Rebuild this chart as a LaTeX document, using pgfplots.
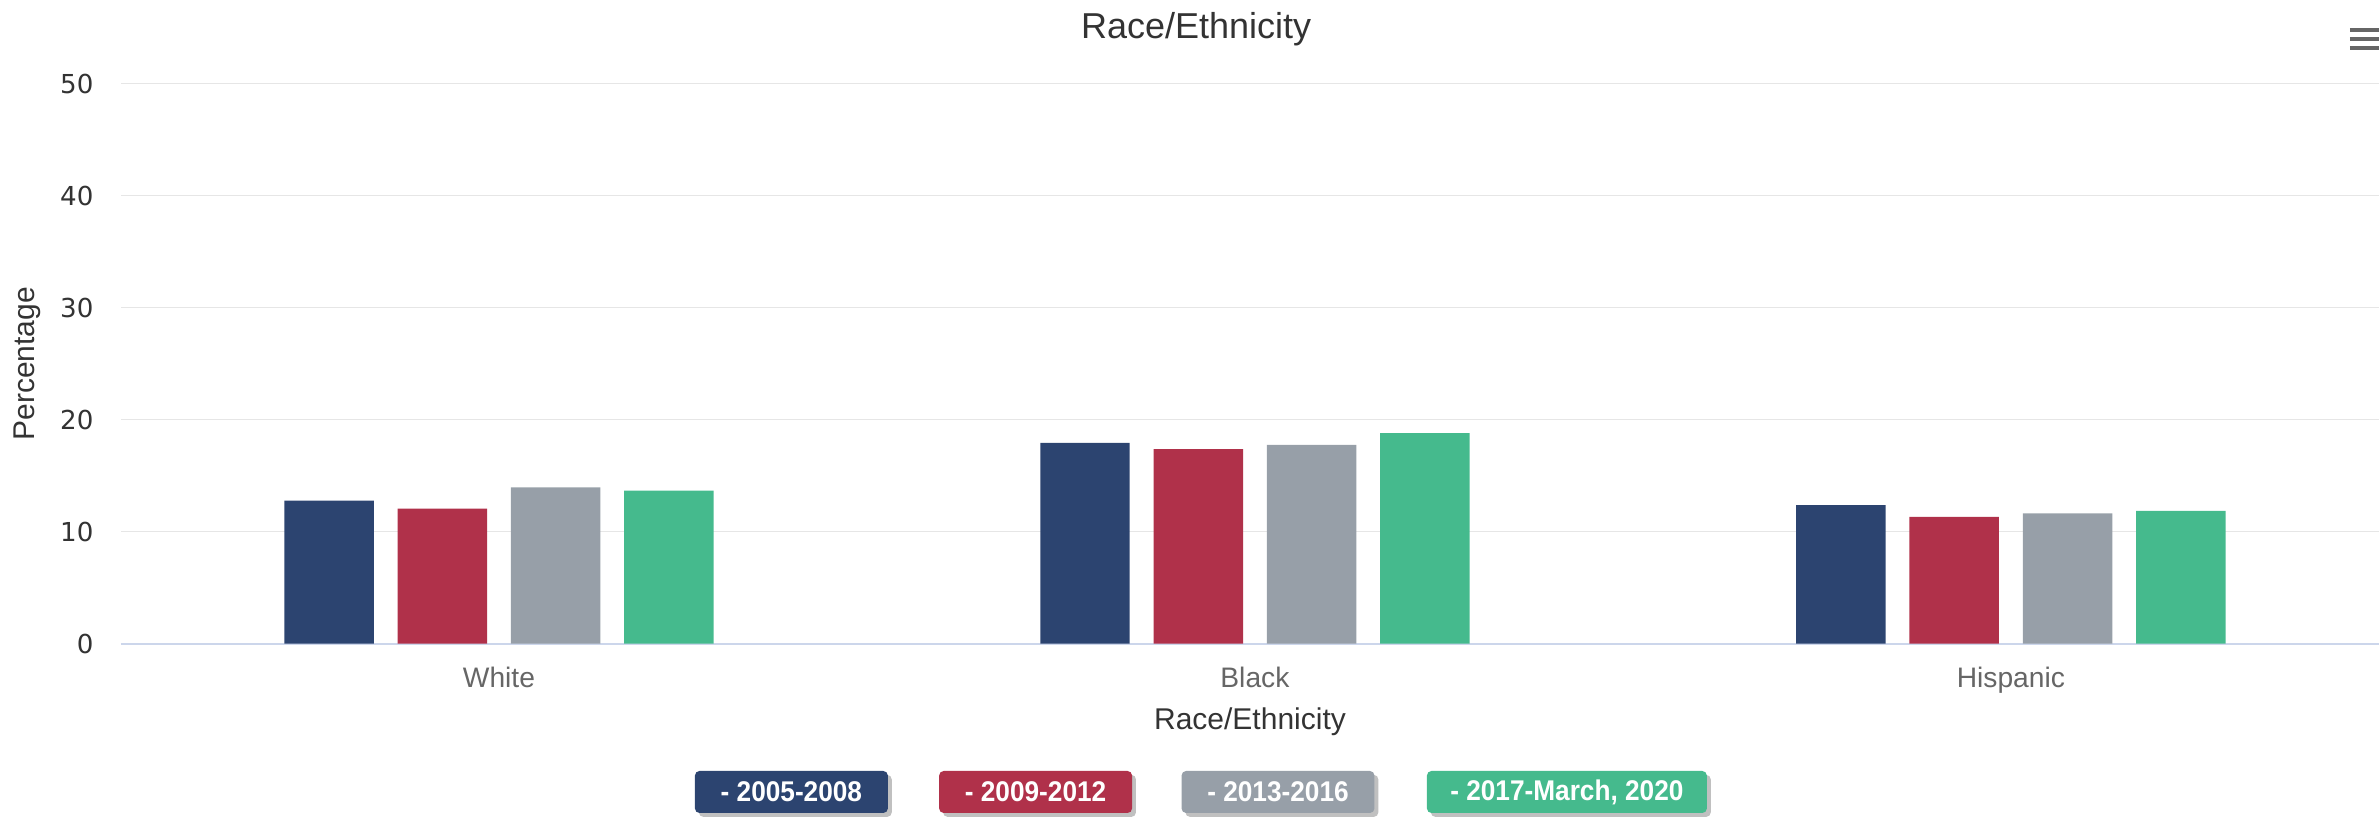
\documentclass[border=0pt]{standalone}
\usepackage{fontspec}
\setmainfont{Liberation Sans}
\newfontfamily\dejavu{DejaVu Sans}
\usepackage{graphicx}
\usepackage{pgfplots}
\pgfplotsset{compat=1.18}
\usetikzlibrary{shadows}
\definecolor{cnavy}{HTML}{2C4470}
\definecolor{cred}{HTML}{B0314A}
\definecolor{cgray}{HTML}{979FA8}
\definecolor{cgreen}{HTML}{45BA8D}
\definecolor{cgrid}{HTML}{E6E6E6}
\definecolor{caxis}{HTML}{CCD6EB}
\definecolor{ctext}{HTML}{333333}
\definecolor{clabel}{HTML}{666666}
\tikzset{leg/.style={rounded corners=1.5pt, minimum height=14pt, inner sep=0pt, text=white,
  font=\fontsize{9.5}{10}\selectfont\bfseries,
  drop shadow={shadow xshift=1.3pt, shadow yshift=-1.3pt, fill=black!55, opacity=0.45}}}
\begin{document}
\begin{tikzpicture}
\begin{axis}[
  at={(40.33pt,57.77pt)}, anchor=south west,
  scale only axis, width=752.67pt, height=186.67pt,
  xmin=-0.5, xmax=2.487, ymin=0, ymax=50,
  axis x line*=bottom, axis y line*=left,
  axis line style={-},
  x axis line style={draw=caxis, line width=0.6pt},
  y axis line style={draw=none},
  ymajorgrids, grid style={cgrid, line width=0.5pt},
  ytick={0,10,20,30,40,50},
  /pgf/number format/assume math mode=true,
  xtick={0,1,2}, xticklabels={White,Black,Hispanic},
  major tick length=0pt, tick style={draw=none},
  yticklabel style={font=\dejavu\fontsize{8.7}{10}\selectfont, text=ctext, inner sep=0pt, xshift=-9pt},
  xticklabel style={font=\fontsize{9.4}{10}\selectfont, text=clabel, inner sep=0pt, anchor=north, yshift=-7.5pt},
  xlabel={Race/Ethnicity},
  xlabel style={at={(axis description cs:0.5,0)}, anchor=north, yshift=-21pt, inner sep=0pt, font=\fontsize{10}{11}\selectfont, text=ctext},
  ylabel={Percentage},
  ylabel style={at={(axis description cs:-0.0416,0.5)}, anchor=center, inner sep=0pt, font=\fontsize{10}{11}\selectfont, text=ctext},
  ybar=7.93pt, bar width=29.83pt,
]
\addplot[fill=cnavy, draw=none] coordinates {(0,12.77) (1,17.92) (2,12.38)};
\addplot[fill=cred, draw=none] coordinates {(0,12.05) (1,17.38) (2,11.31)};
\addplot[fill=cgray, draw=none] coordinates {(0,13.96) (1,17.74) (2,11.64)};
\addplot[fill=cgreen, draw=none] coordinates {(0,13.66) (1,18.79) (2,11.85)};
\end{axis}
% title
\node[font=\fontsize{12}{13}\selectfont, text=ctext, inner sep=0pt] at (398.7pt,262.6pt) {Race/Ethnicity};
% menu icon
\foreach \yy in {262.3,259.2,256.2} {\draw[clabel, line width=1.3pt] (783.3pt,\yy pt) -- (793pt,\yy pt);}
% legend
\node[leg, fill=cnavy, minimum width=64.3pt] at (263.8pt,8.33pt) {\scalebox{0.92}[1]{- 2005-2008}};
\node[leg, fill=cred, minimum width=64.3pt] at (345.2pt,8.33pt) {\scalebox{0.92}[1]{- 2009-2012}};
\node[leg, fill=cgray, minimum width=64.3pt] at (426pt,8.33pt) {\scalebox{0.92}[1]{- 2013-2016}};
\node[leg, fill=cgreen, minimum width=93.3pt] at (522.3pt,8.33pt) {\scalebox{0.92}[1]{- 2017-March, 2020}};
\pgfresetboundingbox
\useasboundingbox (0,0) rectangle (793pt,272.33pt);
\end{tikzpicture}
\end{document}
